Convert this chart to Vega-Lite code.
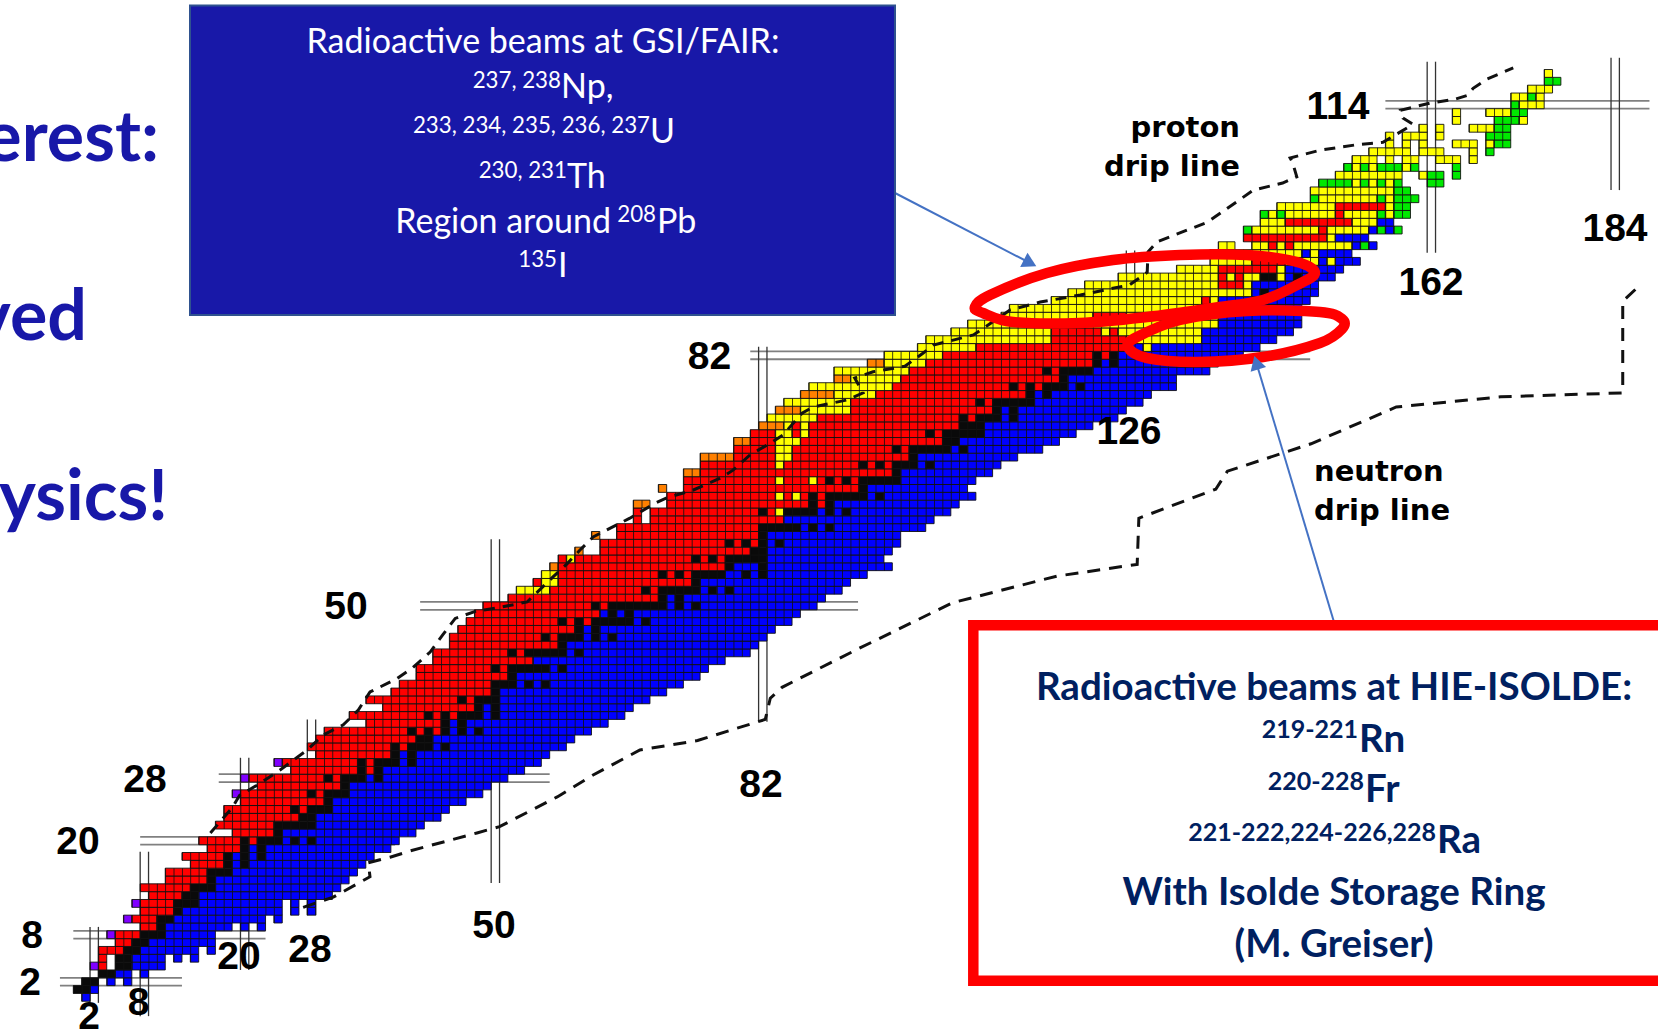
{"$schema":"https://vega.github.io/schema/vega-lite/v6.json","width":1658,"height":1032,"padding":0,"autosize":{"type":"none"},"background":"white","config":{"view":{"stroke":null}},
"datasets":{"cells":[
{"z":0,"a":1,"b":2,"c":"b"},{"z":1,"a":0,"b":2,"c":"k"},{"z":1,"a":2,"b":3,"c":"b"},{"z":2,"a":1,"b":3,"c":"k"},{"z":2,"a":4,"b":5,"c":"b"},{"z":2,"a":6,"b":7,"c":"b"},{"z":3,"a":3,"b":5,"c":"k"},{"z":3,"a":5,"b":7,"c":"b"},{"z":3,"a":8,"b":9,"c":"b"},
{"z":4,"a":2,"b":3,"c":"p"},{"z":4,"a":3,"b":4,"c":"r"},{"z":4,"a":5,"b":7,"c":"k"},{"z":4,"a":7,"b":11,"c":"b"},{"z":5,"a":3,"b":4,"c":"r"},{"z":5,"a":5,"b":7,"c":"k"},{"z":5,"a":7,"b":11,"c":"b"},{"z":5,"a":12,"b":13,"c":"b"},{"z":5,"a":14,"b":15,"c":"b"},
{"z":6,"a":3,"b":6,"c":"r"},{"z":6,"a":6,"b":8,"c":"k"},{"z":6,"a":8,"b":15,"c":"b"},{"z":6,"a":16,"b":17,"c":"b"},{"z":7,"a":5,"b":7,"c":"r"},{"z":7,"a":7,"b":9,"c":"k"},{"z":7,"a":9,"b":17,"c":"b"},{"z":8,"a":4,"b":5,"c":"p"},{"z":8,"a":5,"b":8,"c":"r"},{"z":8,"a":8,"b":11,"c":"k"},{"z":8,"a":11,"b":17,"c":"b"},
{"z":9,"a":8,"b":10,"c":"r"},{"z":9,"a":10,"b":11,"c":"k"},{"z":9,"a":11,"b":19,"c":"b"},{"z":9,"a":20,"b":21,"c":"b"},{"z":9,"a":22,"b":23,"c":"b"},{"z":10,"a":6,"b":7,"c":"p"},{"z":10,"a":7,"b":10,"c":"r"},{"z":10,"a":10,"b":12,"c":"k"},{"z":10,"a":12,"b":23,"c":"b"},{"z":10,"a":24,"b":25,"c":"b"},
{"z":11,"a":8,"b":12,"c":"r"},{"z":11,"a":12,"b":13,"c":"k"},{"z":11,"a":13,"b":25,"c":"b"},{"z":11,"a":26,"b":27,"c":"b"},{"z":11,"a":28,"b":29,"c":"b"},{"z":12,"a":7,"b":8,"c":"p"},{"z":12,"a":8,"b":12,"c":"r"},{"z":12,"a":12,"b":15,"c":"k"},{"z":12,"a":15,"b":25,"c":"b"},{"z":12,"a":26,"b":27,"c":"b"},{"z":12,"a":28,"b":29,"c":"b"},
{"z":13,"a":9,"b":13,"c":"r"},{"z":13,"a":13,"b":15,"c":"k"},{"z":13,"a":15,"b":31,"c":"b"},{"z":14,"a":8,"b":14,"c":"r"},{"z":14,"a":14,"b":17,"c":"k"},{"z":14,"a":17,"b":32,"c":"b"},{"z":15,"a":11,"b":16,"c":"r"},{"z":15,"a":16,"b":17,"c":"k"},{"z":15,"a":17,"b":33,"c":"b"},{"z":16,"a":11,"b":16,"c":"r"},{"z":16,"a":16,"b":19,"c":"k"},{"z":16,"a":19,"b":34,"c":"b"},
{"z":17,"a":14,"b":18,"c":"r"},{"z":17,"a":18,"b":19,"c":"k"},{"z":17,"a":19,"b":20,"c":"b"},{"z":17,"a":20,"b":21,"c":"k"},{"z":17,"a":21,"b":35,"c":"b"},{"z":18,"a":13,"b":18,"c":"r"},{"z":18,"a":18,"b":19,"c":"k"},{"z":18,"a":19,"b":20,"c":"b"},{"z":18,"a":20,"b":21,"c":"k"},{"z":18,"a":21,"b":22,"c":"b"},{"z":18,"a":22,"b":23,"c":"k"},{"z":18,"a":23,"b":36,"c":"b"},
{"z":19,"a":16,"b":20,"c":"r"},{"z":19,"a":20,"b":21,"c":"k"},{"z":19,"a":21,"b":22,"c":"b"},{"z":19,"a":22,"b":23,"c":"k"},{"z":19,"a":23,"b":38,"c":"b"},{"z":20,"a":15,"b":20,"c":"r"},{"z":20,"a":20,"b":21,"c":"k"},{"z":20,"a":21,"b":22,"c":"r"},{"z":20,"a":22,"b":25,"c":"k"},{"z":20,"a":25,"b":26,"c":"b"},{"z":20,"a":26,"b":27,"c":"k"},{"z":20,"a":27,"b":28,"c":"b"},{"z":20,"a":28,"b":29,"c":"k"},{"z":20,"a":29,"b":39,"c":"b"},
{"z":21,"a":19,"b":24,"c":"r"},{"z":21,"a":24,"b":25,"c":"k"},{"z":21,"a":25,"b":41,"c":"b"},{"z":22,"a":17,"b":24,"c":"r"},{"z":22,"a":24,"b":29,"c":"k"},{"z":22,"a":29,"b":42,"c":"b"},{"z":23,"a":18,"b":27,"c":"r"},{"z":23,"a":27,"b":29,"c":"k"},{"z":23,"a":29,"b":44,"c":"b"},{"z":24,"a":18,"b":26,"c":"r"},{"z":24,"a":26,"b":27,"c":"k"},{"z":24,"a":27,"b":28,"c":"r"},{"z":24,"a":28,"b":31,"c":"k"},{"z":24,"a":31,"b":45,"c":"b"},
{"z":25,"a":20,"b":30,"c":"r"},{"z":25,"a":30,"b":31,"c":"k"},{"z":25,"a":31,"b":47,"c":"b"},{"z":26,"a":19,"b":20,"c":"p"},{"z":26,"a":20,"b":28,"c":"r"},{"z":26,"a":28,"b":29,"c":"k"},{"z":26,"a":29,"b":30,"c":"r"},{"z":26,"a":30,"b":33,"c":"k"},{"z":26,"a":33,"b":49,"c":"b"},{"z":27,"a":22,"b":32,"c":"r"},{"z":27,"a":32,"b":33,"c":"k"},{"z":27,"a":33,"b":50,"c":"b"},
{"z":28,"a":20,"b":21,"c":"p"},{"z":28,"a":21,"b":30,"c":"r"},{"z":28,"a":30,"b":31,"c":"k"},{"z":28,"a":31,"b":32,"c":"r"},{"z":28,"a":32,"b":35,"c":"k"},{"z":28,"a":35,"b":36,"c":"b"},{"z":28,"a":36,"b":37,"c":"k"},{"z":28,"a":37,"b":52,"c":"b"},{"z":29,"a":26,"b":34,"c":"r"},{"z":29,"a":34,"b":35,"c":"k"},{"z":29,"a":35,"b":36,"c":"r"},{"z":29,"a":36,"b":37,"c":"k"},{"z":29,"a":37,"b":54,"c":"b"},
{"z":30,"a":24,"b":25,"c":"p"},{"z":30,"a":25,"b":34,"c":"r"},{"z":30,"a":34,"b":35,"c":"k"},{"z":30,"a":35,"b":36,"c":"r"},{"z":30,"a":36,"b":39,"c":"k"},{"z":30,"a":39,"b":40,"c":"b"},{"z":30,"a":40,"b":41,"c":"k"},{"z":30,"a":41,"b":56,"c":"b"},{"z":31,"a":29,"b":38,"c":"r"},{"z":31,"a":38,"b":39,"c":"k"},{"z":31,"a":39,"b":40,"c":"b"},{"z":31,"a":40,"b":41,"c":"k"},{"z":31,"a":41,"b":57,"c":"b"},
{"z":32,"a":28,"b":38,"c":"r"},{"z":32,"a":38,"b":39,"c":"k"},{"z":32,"a":39,"b":40,"c":"r"},{"z":32,"a":40,"b":43,"c":"k"},{"z":32,"a":43,"b":44,"c":"b"},{"z":32,"a":44,"b":45,"c":"k"},{"z":32,"a":45,"b":59,"c":"b"},{"z":33,"a":29,"b":41,"c":"r"},{"z":33,"a":41,"b":43,"c":"k"},{"z":33,"a":43,"b":60,"c":"b"},
{"z":34,"a":30,"b":40,"c":"r"},{"z":34,"a":40,"b":41,"c":"k"},{"z":34,"a":41,"b":42,"c":"r"},{"z":34,"a":42,"b":43,"c":"k"},{"z":34,"a":43,"b":44,"c":"r"},{"z":34,"a":44,"b":45,"c":"k"},{"z":34,"a":45,"b":46,"c":"b"},{"z":34,"a":46,"b":47,"c":"k"},{"z":34,"a":47,"b":48,"c":"b"},{"z":34,"a":48,"b":49,"c":"k"},{"z":34,"a":49,"b":62,"c":"b"},
{"z":35,"a":35,"b":44,"c":"r"},{"z":35,"a":44,"b":45,"c":"k"},{"z":35,"a":45,"b":46,"c":"b"},{"z":35,"a":46,"b":47,"c":"k"},{"z":35,"a":47,"b":64,"c":"b"},{"z":36,"a":33,"b":42,"c":"r"},{"z":36,"a":42,"b":43,"c":"k"},{"z":36,"a":43,"b":44,"c":"r"},{"z":36,"a":44,"b":45,"c":"k"},{"z":36,"a":45,"b":46,"c":"r"},{"z":36,"a":46,"b":49,"c":"k"},{"z":36,"a":49,"b":50,"c":"b"},{"z":36,"a":50,"b":51,"c":"k"},{"z":36,"a":51,"b":66,"c":"b"},
{"z":37,"a":37,"b":48,"c":"r"},{"z":37,"a":48,"b":49,"c":"k"},{"z":37,"a":49,"b":50,"c":"b"},{"z":37,"a":50,"b":51,"c":"k"},{"z":37,"a":51,"b":67,"c":"b"},{"z":38,"a":35,"b":46,"c":"r"},{"z":38,"a":46,"b":47,"c":"k"},{"z":38,"a":47,"b":48,"c":"r"},{"z":38,"a":48,"b":51,"c":"k"},{"z":38,"a":51,"b":69,"c":"b"},{"z":39,"a":38,"b":50,"c":"r"},{"z":39,"a":50,"b":51,"c":"k"},{"z":39,"a":51,"b":71,"c":"b"},
{"z":40,"a":39,"b":50,"c":"r"},{"z":40,"a":50,"b":53,"c":"k"},{"z":40,"a":53,"b":54,"c":"b"},{"z":40,"a":54,"b":55,"c":"k"},{"z":40,"a":55,"b":56,"c":"b"},{"z":40,"a":56,"b":57,"c":"k"},{"z":40,"a":57,"b":73,"c":"b"},{"z":41,"a":41,"b":52,"c":"r"},{"z":41,"a":52,"b":53,"c":"k"},{"z":41,"a":53,"b":75,"c":"b"},
{"z":42,"a":41,"b":50,"c":"r"},{"z":42,"a":50,"b":51,"c":"k"},{"z":42,"a":51,"b":52,"c":"r"},{"z":42,"a":52,"b":57,"c":"k"},{"z":42,"a":57,"b":58,"c":"b"},{"z":42,"a":58,"b":59,"c":"k"},{"z":42,"a":59,"b":76,"c":"b"},{"z":43,"a":43,"b":55,"c":"r"},{"z":43,"a":55,"b":78,"c":"b"},
{"z":44,"a":43,"b":52,"c":"r"},{"z":44,"a":52,"b":53,"c":"k"},{"z":44,"a":53,"b":54,"c":"r"},{"z":44,"a":54,"b":59,"c":"k"},{"z":44,"a":59,"b":60,"c":"b"},{"z":44,"a":60,"b":61,"c":"k"},{"z":44,"a":61,"b":81,"c":"b"},{"z":45,"a":45,"b":58,"c":"r"},{"z":45,"a":58,"b":59,"c":"k"},{"z":45,"a":59,"b":82,"c":"b"},
{"z":46,"a":45,"b":56,"c":"r"},{"z":46,"a":56,"b":57,"c":"k"},{"z":46,"a":57,"b":58,"c":"r"},{"z":46,"a":58,"b":61,"c":"k"},{"z":46,"a":61,"b":62,"c":"b"},{"z":46,"a":62,"b":63,"c":"k"},{"z":46,"a":63,"b":64,"c":"b"},{"z":46,"a":64,"b":65,"c":"k"},{"z":46,"a":65,"b":83,"c":"b"},{"z":47,"a":46,"b":60,"c":"r"},{"z":47,"a":60,"b":61,"c":"k"},{"z":47,"a":61,"b":62,"c":"b"},{"z":47,"a":62,"b":63,"c":"k"},{"z":47,"a":63,"b":84,"c":"b"},
{"z":48,"a":47,"b":58,"c":"r"},{"z":48,"a":58,"b":59,"c":"k"},{"z":48,"a":59,"b":60,"c":"r"},{"z":48,"a":60,"b":61,"c":"k"},{"z":48,"a":61,"b":62,"c":"r"},{"z":48,"a":62,"b":67,"c":"k"},{"z":48,"a":67,"b":68,"c":"b"},{"z":48,"a":68,"b":69,"c":"k"},{"z":48,"a":69,"b":86,"c":"b"},{"z":49,"a":48,"b":63,"c":"r"},{"z":49,"a":63,"b":64,"c":"b"},{"z":49,"a":64,"b":65,"c":"k"},{"z":49,"a":65,"b":66,"c":"b"},{"z":49,"a":66,"b":67,"c":"k"},{"z":49,"a":67,"b":87,"c":"b"},
{"z":50,"a":49,"b":62,"c":"r"},{"z":50,"a":62,"b":63,"c":"k"},{"z":50,"a":63,"b":64,"c":"r"},{"z":50,"a":64,"b":71,"c":"k"},{"z":50,"a":71,"b":72,"c":"b"},{"z":50,"a":72,"b":73,"c":"k"},{"z":50,"a":73,"b":74,"c":"b"},{"z":50,"a":74,"b":75,"c":"k"},{"z":50,"a":75,"b":89,"c":"b"},{"z":51,"a":52,"b":70,"c":"r"},{"z":51,"a":70,"b":71,"c":"k"},{"z":51,"a":71,"b":72,"c":"b"},{"z":51,"a":72,"b":73,"c":"k"},{"z":51,"a":73,"b":90,"c":"b"},
{"z":52,"a":53,"b":57,"c":"y"},{"z":52,"a":57,"b":68,"c":"r"},{"z":52,"a":68,"b":69,"c":"k"},{"z":52,"a":69,"b":70,"c":"r"},{"z":52,"a":70,"b":75,"c":"k"},{"z":52,"a":75,"b":76,"c":"b"},{"z":52,"a":76,"b":77,"c":"k"},{"z":52,"a":77,"b":78,"c":"b"},{"z":52,"a":78,"b":79,"c":"k"},{"z":52,"a":79,"b":92,"c":"b"},{"z":53,"a":55,"b":56,"c":"r"},{"z":53,"a":56,"b":58,"c":"y"},{"z":53,"a":58,"b":74,"c":"r"},{"z":53,"a":74,"b":75,"c":"k"},{"z":53,"a":75,"b":93,"c":"b"},
{"z":54,"a":56,"b":58,"c":"y"},{"z":54,"a":58,"b":70,"c":"r"},{"z":54,"a":70,"b":71,"c":"k"},{"z":54,"a":71,"b":72,"c":"r"},{"z":54,"a":72,"b":73,"c":"k"},{"z":54,"a":73,"b":74,"c":"r"},{"z":54,"a":74,"b":78,"c":"k"},{"z":54,"a":78,"b":80,"c":"b"},{"z":54,"a":80,"b":81,"c":"k"},{"z":54,"a":81,"b":82,"c":"b"},{"z":54,"a":82,"b":83,"c":"k"},{"z":54,"a":83,"b":95,"c":"b"},
{"z":55,"a":57,"b":58,"c":"o"},{"z":55,"a":58,"b":78,"c":"r"},{"z":55,"a":78,"b":79,"c":"k"},{"z":55,"a":79,"b":82,"c":"b"},{"z":55,"a":82,"b":83,"c":"k"},{"z":55,"a":83,"b":98,"c":"b"},{"z":56,"a":58,"b":59,"c":"r"},{"z":56,"a":59,"b":60,"c":"y"},{"z":56,"a":60,"b":74,"c":"r"},{"z":56,"a":74,"b":75,"c":"k"},{"z":56,"a":75,"b":76,"c":"r"},{"z":56,"a":76,"b":77,"c":"k"},{"z":56,"a":77,"b":78,"c":"r"},{"z":56,"a":78,"b":83,"c":"k"},{"z":56,"a":83,"b":97,"c":"b"},
{"z":57,"a":60,"b":61,"c":"o"},{"z":57,"a":63,"b":81,"c":"r"},{"z":57,"a":81,"b":83,"c":"k"},{"z":57,"a":83,"b":98,"c":"b"},{"z":58,"a":63,"b":78,"c":"r"},{"z":58,"a":78,"b":79,"c":"k"},{"z":58,"a":79,"b":80,"c":"r"},{"z":58,"a":80,"b":81,"c":"k"},{"z":58,"a":81,"b":82,"c":"r"},{"z":58,"a":82,"b":83,"c":"k"},{"z":58,"a":83,"b":84,"c":"b"},{"z":58,"a":84,"b":85,"c":"k"},{"z":58,"a":85,"b":99,"c":"b"},
{"z":59,"a":62,"b":63,"c":"o"},{"z":59,"a":65,"b":82,"c":"r"},{"z":59,"a":82,"b":83,"c":"k"},{"z":59,"a":83,"b":99,"c":"b"},{"z":60,"a":65,"b":82,"c":"r"},{"z":60,"a":82,"b":87,"c":"k"},{"z":60,"a":87,"b":88,"c":"b"},{"z":60,"a":88,"b":89,"c":"k"},{"z":60,"a":89,"b":90,"c":"b"},{"z":60,"a":90,"b":91,"c":"k"},{"z":60,"a":91,"b":102,"c":"b"},
{"z":61,"a":67,"b":68,"c":"r"},{"z":61,"a":69,"b":85,"c":"r"},{"z":61,"a":85,"b":103,"c":"b"},{"z":62,"a":67,"b":68,"c":"r"},{"z":62,"a":69,"b":82,"c":"r"},{"z":62,"a":82,"b":83,"c":"k"},{"z":62,"a":83,"b":84,"c":"r"},{"z":62,"a":84,"b":85,"c":"y"},{"z":62,"a":85,"b":89,"c":"k"},{"z":62,"a":89,"b":90,"c":"b"},{"z":62,"a":90,"b":91,"c":"k"},{"z":62,"a":91,"b":92,"c":"b"},{"z":62,"a":92,"b":93,"c":"k"},{"z":62,"a":93,"b":105,"c":"b"},
{"z":63,"a":67,"b":69,"c":"o"},{"z":63,"a":71,"b":88,"c":"r"},{"z":63,"a":88,"b":89,"c":"k"},{"z":63,"a":89,"b":90,"c":"r"},{"z":63,"a":90,"b":91,"c":"k"},{"z":63,"a":91,"b":106,"c":"b"},{"z":64,"a":71,"b":84,"c":"r"},{"z":64,"a":84,"b":85,"c":"y"},{"z":64,"a":85,"b":86,"c":"r"},{"z":64,"a":86,"b":87,"c":"y"},{"z":64,"a":87,"b":88,"c":"r"},{"z":64,"a":88,"b":89,"c":"k"},{"z":64,"a":89,"b":90,"c":"r"},{"z":64,"a":90,"b":95,"c":"k"},{"z":64,"a":95,"b":96,"c":"b"},{"z":64,"a":96,"b":97,"c":"k"},{"z":64,"a":97,"b":108,"c":"b"},
{"z":65,"a":70,"b":71,"c":"o"},{"z":65,"a":73,"b":94,"c":"r"},{"z":65,"a":94,"b":95,"c":"k"},{"z":65,"a":95,"b":107,"c":"b"},{"z":66,"a":73,"b":84,"c":"r"},{"z":66,"a":84,"b":85,"c":"y"},{"z":66,"a":85,"b":88,"c":"r"},{"z":66,"a":88,"b":89,"c":"y"},{"z":66,"a":89,"b":90,"c":"r"},{"z":66,"a":90,"b":91,"c":"k"},{"z":66,"a":91,"b":92,"c":"r"},{"z":66,"a":92,"b":93,"c":"k"},{"z":66,"a":93,"b":94,"c":"r"},{"z":66,"a":94,"b":99,"c":"k"},{"z":66,"a":99,"b":108,"c":"b"},
{"z":67,"a":73,"b":75,"c":"o"},{"z":67,"a":75,"b":98,"c":"r"},{"z":67,"a":98,"b":99,"c":"k"},{"z":67,"a":99,"b":110,"c":"b"},{"z":68,"a":75,"b":84,"c":"r"},{"z":68,"a":84,"b":85,"c":"y"},{"z":68,"a":85,"b":94,"c":"r"},{"z":68,"a":94,"b":95,"c":"k"},{"z":68,"a":95,"b":96,"c":"r"},{"z":68,"a":96,"b":97,"c":"k"},{"z":68,"a":97,"b":98,"c":"r"},{"z":68,"a":98,"b":101,"c":"k"},{"z":68,"a":101,"b":102,"c":"b"},{"z":68,"a":102,"b":103,"c":"k"},{"z":68,"a":103,"b":111,"c":"b"},
{"z":69,"a":75,"b":79,"c":"o"},{"z":69,"a":79,"b":84,"c":"r"},{"z":69,"a":84,"b":86,"c":"y"},{"z":69,"a":86,"b":100,"c":"r"},{"z":69,"a":100,"b":101,"c":"k"},{"z":69,"a":101,"b":113,"c":"b"},{"z":70,"a":79,"b":84,"c":"r"},{"z":70,"a":84,"b":86,"c":"y"},{"z":70,"a":86,"b":98,"c":"r"},{"z":70,"a":98,"b":99,"c":"k"},{"z":70,"a":99,"b":100,"c":"r"},{"z":70,"a":100,"b":105,"c":"k"},{"z":70,"a":105,"b":106,"c":"b"},{"z":70,"a":106,"b":107,"c":"k"},{"z":70,"a":107,"b":116,"c":"b"},
{"z":71,"a":79,"b":81,"c":"o"},{"z":71,"a":81,"b":84,"c":"r"},{"z":71,"a":84,"b":87,"c":"y"},{"z":71,"a":87,"b":104,"c":"r"},{"z":71,"a":104,"b":106,"c":"k"},{"z":71,"a":106,"b":118,"c":"b"},{"z":72,"a":81,"b":84,"c":"r"},{"z":72,"a":84,"b":86,"c":"y"},{"z":72,"a":86,"b":87,"c":"r"},{"z":72,"a":87,"b":88,"c":"y"},{"z":72,"a":88,"b":102,"c":"r"},{"z":72,"a":102,"b":103,"c":"k"},{"z":72,"a":103,"b":104,"c":"r"},{"z":72,"a":104,"b":109,"c":"k"},{"z":72,"a":109,"b":120,"c":"b"},
{"z":73,"a":82,"b":85,"c":"o"},{"z":73,"a":85,"b":86,"c":"y"},{"z":73,"a":86,"b":87,"c":"r"},{"z":73,"a":87,"b":88,"c":"y"},{"z":73,"a":88,"b":106,"c":"r"},{"z":73,"a":106,"b":109,"c":"k"},{"z":73,"a":109,"b":122,"c":"b"},{"z":74,"a":83,"b":89,"c":"y"},{"z":74,"a":89,"b":106,"c":"r"},{"z":74,"a":106,"b":107,"c":"k"},{"z":74,"a":107,"b":108,"c":"r"},{"z":74,"a":108,"b":111,"c":"k"},{"z":74,"a":111,"b":112,"c":"b"},{"z":74,"a":112,"b":113,"c":"k"},{"z":74,"a":113,"b":125,"c":"b"},
{"z":75,"a":84,"b":87,"c":"o"},{"z":75,"a":87,"b":93,"c":"y"},{"z":75,"a":93,"b":110,"c":"r"},{"z":75,"a":110,"b":111,"c":"k"},{"z":75,"a":111,"b":112,"c":"b"},{"z":75,"a":112,"b":113,"c":"k"},{"z":75,"a":113,"b":126,"c":"b"},{"z":76,"a":85,"b":93,"c":"y"},{"z":76,"a":93,"b":108,"c":"r"},{"z":76,"a":108,"b":109,"c":"k"},{"z":76,"a":109,"b":110,"c":"r"},{"z":76,"a":110,"b":115,"c":"k"},{"z":76,"a":115,"b":128,"c":"b"},
{"z":77,"a":87,"b":91,"c":"o"},{"z":77,"a":91,"b":96,"c":"y"},{"z":77,"a":96,"b":114,"c":"r"},{"z":77,"a":114,"b":115,"c":"k"},{"z":77,"a":115,"b":116,"c":"b"},{"z":77,"a":116,"b":117,"c":"k"},{"z":77,"a":117,"b":129,"c":"b"},{"z":78,"a":88,"b":98,"c":"y"},{"z":78,"a":98,"b":112,"c":"r"},{"z":78,"a":112,"b":113,"c":"k"},{"z":78,"a":113,"b":114,"c":"r"},{"z":78,"a":114,"b":115,"c":"k"},{"z":78,"a":115,"b":116,"c":"r"},{"z":78,"a":116,"b":119,"c":"k"},{"z":78,"a":119,"b":120,"c":"b"},{"z":78,"a":120,"b":121,"c":"k"},{"z":78,"a":121,"b":132,"c":"b"},
{"z":79,"a":91,"b":93,"c":"o"},{"z":79,"a":93,"b":99,"c":"y"},{"z":79,"a":99,"b":118,"c":"r"},{"z":79,"a":118,"b":119,"c":"k"},{"z":79,"a":119,"b":132,"c":"b"},{"z":80,"a":91,"b":100,"c":"y"},{"z":80,"a":100,"b":116,"c":"r"},{"z":80,"a":116,"b":117,"c":"k"},{"z":80,"a":117,"b":118,"c":"r"},{"z":80,"a":118,"b":122,"c":"k"},{"z":80,"a":122,"b":136,"c":"b"},
{"z":81,"a":95,"b":97,"c":"o"},{"z":81,"a":97,"b":102,"c":"y"},{"z":81,"a":102,"b":122,"c":"r"},{"z":81,"a":122,"b":123,"c":"k"},{"z":81,"a":123,"b":124,"c":"b"},{"z":81,"a":124,"b":125,"c":"k"},{"z":81,"a":125,"b":137,"c":"b"},{"z":82,"a":97,"b":104,"c":"y"},{"z":82,"a":104,"b":122,"c":"r"},{"z":82,"a":122,"b":123,"c":"k"},{"z":82,"a":123,"b":124,"c":"r"},{"z":82,"a":124,"b":125,"c":"k"},{"z":82,"a":125,"b":140,"c":"b"},
{"z":83,"a":101,"b":108,"c":"y"},{"z":83,"a":108,"b":126,"c":"r"},{"z":83,"a":126,"b":128,"c":"b"},{"z":83,"a":128,"b":129,"c":"y"},{"z":83,"a":129,"b":142,"c":"b"},{"z":84,"a":102,"b":117,"c":"y"},{"z":84,"a":117,"b":126,"c":"r"},{"z":84,"a":126,"b":135,"c":"y"},{"z":84,"a":135,"b":144,"c":"b"},{"z":85,"a":105,"b":117,"c":"y"},{"z":85,"a":117,"b":123,"c":"r"},{"z":85,"a":123,"b":124,"c":"y"},{"z":85,"a":124,"b":125,"c":"r"},{"z":85,"a":125,"b":135,"c":"y"},{"z":85,"a":135,"b":146,"c":"b"},
{"z":86,"a":107,"b":137,"c":"y"},{"z":86,"a":137,"b":147,"c":"b"},{"z":87,"a":111,"b":122,"c":"y"},{"z":87,"a":122,"b":126,"c":"r"},{"z":87,"a":126,"b":137,"c":"y"},{"z":87,"a":137,"b":147,"c":"b"},{"z":88,"a":112,"b":137,"c":"y"},{"z":88,"a":137,"b":147,"c":"b"},{"z":89,"a":117,"b":135,"c":"y"},{"z":89,"a":135,"b":136,"c":"r"},{"z":89,"a":136,"b":137,"c":"y"},{"z":89,"a":137,"b":148,"c":"b"},
{"z":90,"a":119,"b":141,"c":"y"},{"z":90,"a":141,"b":142,"c":"b"},{"z":90,"a":142,"b":143,"c":"k"},{"z":90,"a":143,"b":149,"c":"b"},{"z":91,"a":121,"b":137,"c":"y"},{"z":91,"a":137,"b":140,"c":"r"},{"z":91,"a":140,"b":141,"c":"y"},{"z":91,"a":141,"b":149,"c":"b"},{"z":92,"a":125,"b":137,"c":"y"},{"z":92,"a":137,"b":138,"c":"r"},{"z":92,"a":138,"b":139,"c":"y"},{"z":92,"a":139,"b":140,"c":"r"},{"z":92,"a":140,"b":142,"c":"y"},{"z":92,"a":142,"b":144,"c":"k"},{"z":92,"a":144,"b":145,"c":"y"},{"z":92,"a":145,"b":146,"c":"b"},{"z":92,"a":146,"b":147,"c":"k"},{"z":92,"a":147,"b":151,"c":"b"},
{"z":93,"a":132,"b":137,"c":"y"},{"z":93,"a":137,"b":144,"c":"r"},{"z":93,"a":144,"b":145,"c":"y"},{"z":93,"a":145,"b":152,"c":"b"},{"z":94,"a":136,"b":141,"c":"y"},{"z":94,"a":141,"b":145,"c":"r"},{"z":94,"a":145,"b":149,"c":"y"},{"z":94,"a":149,"b":150,"c":"b"},{"z":94,"a":150,"b":151,"c":"y"},{"z":94,"a":151,"b":154,"c":"b"},{"z":95,"a":136,"b":147,"c":"y"},{"z":95,"a":147,"b":148,"c":"b"},{"z":95,"a":148,"b":149,"c":"y"},{"z":95,"a":149,"b":153,"c":"b"},
{"z":96,"a":137,"b":139,"c":"y"},{"z":96,"a":141,"b":143,"c":"y"},{"z":96,"a":143,"b":144,"c":"r"},{"z":96,"a":144,"b":145,"c":"y"},{"z":96,"a":145,"b":146,"c":"r"},{"z":96,"a":146,"b":153,"c":"y"},{"z":96,"a":153,"b":154,"c":"b"},{"z":96,"a":154,"b":155,"c":"g"},{"z":96,"a":155,"b":156,"c":"b"},{"z":97,"a":140,"b":150,"c":"r"},{"z":97,"a":150,"b":151,"c":"y"},{"z":97,"a":151,"b":155,"c":"b"},
{"z":98,"a":140,"b":141,"c":"g"},{"z":98,"a":141,"b":149,"c":"y"},{"z":98,"a":149,"b":150,"c":"r"},{"z":98,"a":150,"b":155,"c":"y"},{"z":98,"a":155,"b":156,"c":"b"},{"z":98,"a":156,"b":157,"c":"g"},{"z":98,"a":157,"b":158,"c":"b"},{"z":98,"a":158,"b":159,"c":"g"},{"z":99,"a":142,"b":145,"c":"y"},{"z":99,"a":145,"b":153,"c":"r"},{"z":99,"a":153,"b":156,"c":"y"},{"z":99,"a":156,"b":158,"c":"b"},
{"z":100,"a":142,"b":143,"c":"g"},{"z":100,"a":143,"b":144,"c":"y"},{"z":100,"a":144,"b":145,"c":"g"},{"z":100,"a":145,"b":151,"c":"y"},{"z":100,"a":151,"b":152,"c":"r"},{"z":100,"a":152,"b":156,"c":"y"},{"z":100,"a":156,"b":157,"c":"g"},{"z":100,"a":157,"b":158,"c":"y"},{"z":100,"a":158,"b":160,"c":"g"},{"z":101,"a":144,"b":151,"c":"y"},{"z":101,"a":151,"b":157,"c":"r"},{"z":101,"a":157,"b":158,"c":"y"},{"z":101,"a":158,"b":160,"c":"g"},
{"z":102,"a":148,"b":149,"c":"g"},{"z":102,"a":149,"b":156,"c":"y"},{"z":102,"a":156,"b":157,"c":"g"},{"z":102,"a":157,"b":158,"c":"y"},{"z":102,"a":158,"b":161,"c":"g"},{"z":103,"a":148,"b":158,"c":"y"},{"z":103,"a":158,"b":160,"c":"g"},{"z":104,"a":149,"b":153,"c":"g"},{"z":104,"a":153,"b":154,"c":"y"},{"z":104,"a":154,"b":155,"c":"g"},{"z":104,"a":155,"b":156,"c":"y"},{"z":104,"a":156,"b":157,"c":"g"},{"z":104,"a":157,"b":158,"c":"y"},{"z":104,"a":158,"b":159,"c":"g"},{"z":104,"a":162,"b":164,"c":"g"},
{"z":105,"a":151,"b":159,"c":"y"},{"z":105,"a":161,"b":162,"c":"y"},{"z":105,"a":162,"b":164,"c":"g"},{"z":105,"a":165,"b":166,"c":"g"},{"z":106,"a":152,"b":153,"c":"g"},{"z":106,"a":153,"b":154,"c":"y"},{"z":106,"a":154,"b":155,"c":"g"},{"z":106,"a":155,"b":156,"c":"y"},{"z":106,"a":156,"b":159,"c":"g"},{"z":106,"a":159,"b":160,"c":"y"},{"z":106,"a":160,"b":161,"c":"g"},{"z":106,"a":165,"b":166,"c":"g"},
{"z":107,"a":153,"b":156,"c":"y"},{"z":107,"a":157,"b":158,"c":"y"},{"z":107,"a":159,"b":161,"c":"y"},{"z":107,"a":163,"b":166,"c":"y"},{"z":107,"a":167,"b":168,"c":"y"},{"z":108,"a":155,"b":160,"c":"y"},{"z":108,"a":161,"b":164,"c":"y"},{"z":108,"a":167,"b":168,"c":"y"},{"z":108,"a":169,"b":170,"c":"g"},{"z":109,"a":157,"b":158,"c":"y"},{"z":109,"a":159,"b":160,"c":"y"},{"z":109,"a":161,"b":162,"c":"y"},{"z":109,"a":165,"b":168,"c":"y"},{"z":109,"a":169,"b":170,"c":"y"},{"z":109,"a":170,"b":172,"c":"g"},
{"z":110,"a":157,"b":158,"c":"y"},{"z":110,"a":159,"b":162,"c":"y"},{"z":110,"a":163,"b":164,"c":"y"},{"z":110,"a":169,"b":172,"c":"g"},{"z":111,"a":161,"b":162,"c":"y"},{"z":111,"a":163,"b":164,"c":"y"},{"z":111,"a":167,"b":170,"c":"y"},{"z":111,"a":170,"b":172,"c":"g"},{"z":112,"a":165,"b":166,"c":"y"},{"z":112,"a":170,"b":173,"c":"g"},{"z":112,"a":173,"b":174,"c":"y"},{"z":113,"a":165,"b":166,"c":"y"},{"z":113,"a":169,"b":172,"c":"y"},{"z":113,"a":172,"b":174,"c":"g"},
{"z":114,"a":172,"b":173,"c":"g"},{"z":114,"a":173,"b":176,"c":"y"},{"z":115,"a":172,"b":174,"c":"y"},{"z":115,"a":174,"b":175,"c":"g"},{"z":115,"a":175,"b":176,"c":"y"},{"z":116,"a":174,"b":177,"c":"y"},{"z":117,"a":176,"b":178,"c":"g"},{"z":118,"a":176,"b":177,"c":"y"}
]},
"resolve":{"scale":{"x":"independent","y":"independent"}},
"layer":[
{"layer":[
{"data":{"values":[{"m":2,"z":1.5,"a":-1.6,"b":13},{"m":2,"z":2.5,"a":-1.6,"b":13},{"m":8,"z":7.5,"a":0,"b":23},{"m":8,"z":8.5,"a":0,"b":23},{"m":20,"z":19.5,"a":8,"b":38.5},{"m":20,"z":20.5,"a":8,"b":38.5},{"m":28,"z":27.5,"a":17.4,"b":57},{"m":28,"z":28.5,"a":17.4,"b":57},{"m":50,"z":49.5,"a":41.5,"b":93.9},{"m":50,"z":50.5,"a":41.5,"b":93.9},{"m":82,"z":81.5,"a":81,"b":148},{"m":82,"z":82.5,"a":81,"b":148},{"m":114,"z":113.5,"a":157,"b":188.6},{"m":114,"z":114.5,"a":157,"b":188.6}]},
"mark":{"type":"rule","color":"#808080","strokeWidth":1.8},
"encoding":{"x":{"field":"a","type":"quantitative","axis":null,"scale":{"domain":[-8.773,189.62],"nice":false,"zero":false}},"x2":{"field":"b"},"y":{"field":"z","type":"quantitative","axis":null,"scale":{"domain":[-4.424,127.38],"nice":false,"zero":false}}}},
{"data":{"values":[{"e":2,"p":9,"q":-0.7},{"e":3,"p":9,"q":-0.7},{"e":8,"p":18.6,"q":-2.4},{"e":9,"p":18.6,"q":-2.4},{"e":20,"p":30.6,"q":3.5},{"e":21,"p":30.6,"q":3.5},{"e":28,"p":35.5,"q":10.5},{"e":29,"p":35.5,"q":10.5},{"e":50,"p":58.5,"q":14.6},{"e":51,"p":58.5,"q":14.6},{"e":82,"p":83.1,"q":35.2},{"e":83,"p":83.1,"q":35.2},{"e":126,"p":95.4,"q":76.3},{"e":127,"p":95.4,"q":76.3},{"e":162,"p":119.5,"q":95.1},{"e":163,"p":119.5,"q":95.1},{"e":184,"p":120,"q":103.1},{"e":185,"p":120,"q":103.1}]},
"mark":{"type":"rule","color":"#333333","strokeWidth":1.3},
"encoding":{"x":{"field":"e","type":"quantitative","axis":null},"y":{"field":"p","type":"quantitative","axis":null},"y2":{"field":"q"}}},
{"data":{"name":"cells"},"mark":{"type":"rect","height":7.83,"stroke":"#111111","strokeWidth":0.9},
"encoding":{"x":{"field":"a","type":"quantitative","axis":null},"x2":{"field":"b"},"y":{"field":"z","type":"quantitative","axis":null},"color":{"field":"c","type":"nominal","legend":null,"scale":{"domain":["r","b","k","y","o","g","p"],"range":["#ff0000","#0000ff","#0a0a0a","#ffff00","#ff8000","#00e800","#8000ff"]}}}},
{"data":{"name":"cells"},"mark":{"type":"rule","color":"#111111","strokeWidth":7.83,"strokeDash":[0.8,7.557]},
"encoding":{"x":{"field":"a","type":"quantitative","axis":null},"x2":{"field":"b"},"y":{"field":"z","type":"quantitative","axis":null}}},
{"data":{"values":[{"i":1,"n":27.5,"z":11.5},{"i":2,"n":31.1,"z":12.8},{"i":3,"n":35.5,"z":15.4},{"i":4,"n":35.3,"z":17.2},{"i":5,"n":37.9,"z":17.9},{"i":6,"n":40.3,"z":18.7},{"i":7,"n":48.3,"z":21},{"i":8,"n":51,"z":21.8},{"i":9,"n":57.9,"z":25.6},{"i":10,"n":62.2,"z":28.4},{"i":11,"n":67.8,"z":31.6},{"i":12,"n":74.7,"z":32.8},{"i":13,"n":82.8,"z":35.5},{"i":14,"n":83.4,"z":38.2},{"i":15,"n":84.8,"z":39.6},{"i":16,"n":93.7,"z":44.4},{"i":17,"n":105.2,"z":50.4},{"i":18,"n":117.7,"z":53.8},{"i":19,"n":127.3,"z":55.3},{"i":20,"n":127.5,"z":61.2},{"i":21,"n":136.7,"z":64.9},{"i":22,"n":138.1,"z":67.2},{"i":23,"n":148.1,"z":70.7},{"i":24,"n":158.3,"z":75.4},{"i":25,"n":170.8,"z":76.7},{"i":26,"n":185.4,"z":77.2},{"i":27,"n":185.4,"z":88.9},{"i":28,"n":187.1,"z":90.6}]},
"mark":{"type":"line","color":"#111111","strokeWidth":3,"strokeDash":[13,9]},
"encoding":{"x":{"field":"n","type":"quantitative","axis":null},"y":{"field":"z","type":"quantitative","axis":null},"order":{"field":"i"}}},
{"data":{"values":[{"i":1,"n":16.4,"z":21},{"i":2,"n":19,"z":24.2},{"i":3,"n":19.9,"z":25.8},{"i":4,"n":22,"z":27.1},{"i":5,"n":24.7,"z":29},{"i":6,"n":28,"z":31.6},{"i":7,"n":29.9,"z":33.5},{"i":8,"n":32.3,"z":34.8},{"i":9,"n":34.1,"z":36.7},{"i":10,"n":35.5,"z":39},{"i":11,"n":38.7,"z":40.7},{"i":12,"n":40.6,"z":42.1},{"i":13,"n":42.7,"z":44.1},{"i":14,"n":44.2,"z":46.3},{"i":15,"n":45.7,"z":48.4},{"i":16,"n":48.1,"z":49.3},{"i":17,"n":51,"z":49.8},{"i":18,"n":54.3,"z":50.5},{"i":19,"n":57.4,"z":53.7},{"i":20,"n":59.1,"z":55.4},{"i":21,"n":60.6,"z":57.1},{"i":22,"n":62.2,"z":58.8},{"i":23,"n":64.2,"z":59.9},{"i":24,"n":66.6,"z":61.2},{"i":25,"n":69.6,"z":63.1},{"i":26,"n":71,"z":63.8},{"i":27,"n":74.2,"z":64.8},{"i":28,"n":77.4,"z":66.3},{"i":29,"n":78.9,"z":67.3},{"i":30,"n":81,"z":69.3},{"i":31,"n":83.6,"z":70.9},{"i":32,"n":84.9,"z":71.8},{"i":33,"n":87.2,"z":74.6},{"i":34,"n":88.5,"z":75.4},{"i":35,"n":92.6,"z":76.3},{"i":36,"n":94.5,"z":77.2},{"i":37,"n":93.5,"z":79.1},{"i":38,"n":95.7,"z":79.9},{"i":39,"n":99.5,"z":80.6},{"i":40,"n":101.7,"z":82.3},{"i":41,"n":102.9,"z":83.3},{"i":42,"n":107.7,"z":84.6},{"i":43,"n":109.1,"z":85.6},{"i":44,"n":112.1,"z":87.8},{"i":45,"n":115.7,"z":88.8},{"i":46,"n":120.5,"z":89.7},{"i":47,"n":126.4,"z":91},{"i":48,"n":128.5,"z":92.6},{"i":49,"n":128.6,"z":95.2},{"i":50,"n":129.7,"z":96.5},{"i":51,"n":135.7,"z":99},{"i":52,"n":139.2,"z":101.6},{"i":53,"n":141.2,"z":103.1},{"i":54,"n":144.7,"z":104},{"i":55,"n":146.4,"z":104.8},{"i":56,"n":145.9,"z":106.6},{"i":57,"n":145.6,"z":107.2},{"i":58,"n":149.2,"z":108.2},{"i":59,"n":153.6,"z":108.9},{"i":60,"n":156.7,"z":109.2},{"i":61,"n":160.3,"z":111.5},{"i":62,"n":159.1,"z":112.3},{"i":63,"n":158.8,"z":113.3},{"i":64,"n":162.3,"z":114.2},{"i":65,"n":165.3,"z":114.7},{"i":66,"n":166.8,"z":115.2},{"i":67,"n":167.5,"z":116.1},{"i":68,"n":169.2,"z":117.3},{"i":69,"n":172.3,"z":118.7}]},
"mark":{"type":"line","color":"#111111","strokeWidth":3,"strokeDash":[11,8]},
"encoding":{"x":{"field":"n","type":"quantitative","axis":null},"y":{"field":"z","type":"quantitative","axis":null},"order":{"field":"i"}}}
]},
{"layer":[
{"data":{"values":[{"s":1,"i":1,"x":975,"y":307},{"s":1,"i":2,"x":990,"y":295},{"s":1,"i":3,"x":1047,"y":273},{"s":1,"i":4,"x":1113,"y":260},{"s":1,"i":5,"x":1180,"y":255},{"s":1,"i":6,"x":1247,"y":255},{"s":1,"i":7,"x":1297,"y":262},{"s":1,"i":8,"x":1315,"y":273},{"s":1,"i":9,"x":1297,"y":285},{"s":1,"i":10,"x":1263,"y":300},{"s":1,"i":11,"x":1213,"y":308},{"s":1,"i":12,"x":1147,"y":317},{"s":1,"i":13,"x":1080,"y":323},{"s":1,"i":14,"x":1013,"y":322},{"s":1,"i":15,"x":983,"y":313},{"s":2,"i":1,"x":1128,"y":347},{"s":2,"i":2,"x":1137,"y":337},{"s":2,"i":3,"x":1180,"y":320},{"s":2,"i":4,"x":1247,"y":311},{"s":2,"i":5,"x":1320,"y":312},{"s":2,"i":6,"x":1342,"y":319},{"s":2,"i":7,"x":1342,"y":329},{"s":2,"i":8,"x":1320,"y":343},{"s":2,"i":9,"x":1263,"y":357},{"s":2,"i":10,"x":1197,"y":362},{"s":2,"i":11,"x":1147,"y":358}]},
"mark":{"type":"line","color":"#ff0000","strokeWidth":10.5,"interpolate":"cardinal-closed"},
"encoding":{"x":{"field":"x","type":"quantitative","axis":null,"scale":{"domain":[0,1658],"nice":false,"zero":false}},"y":{"field":"y","type":"quantitative","axis":null,"scale":{"domain":[1032,0],"nice":false,"zero":false}},"detail":{"field":"s"},"order":{"field":"i"}}},
{"data":{"values":[{"x":895,"y":193,"p":1030,"q":263},{"x":1334,"y":622,"p":1257,"q":365}]},"mark":{"type":"rule","color":"#4472c4","strokeWidth":2},
"encoding":{"x":{"field":"x","type":"quantitative","axis":null},"y":{"field":"y","type":"quantitative","axis":null},"x2":{"field":"p"},"y2":{"field":"q"}}},
{"data":{"values":[{"x":1028,"y":262}]},"mark":{"type":"point","shape":"triangle","filled":true,"opacity":1,"color":"#4472c4","size":260,"angle":117},
"encoding":{"x":{"field":"x","type":"quantitative","axis":null},"y":{"field":"y","type":"quantitative","axis":null}}},
{"data":{"values":[{"x":1257,"y":365}]},"mark":{"type":"point","shape":"triangle","filled":true,"opacity":1,"color":"#4472c4","size":260,"angle":343},
"encoding":{"x":{"field":"x","type":"quantitative","axis":null},"y":{"field":"y","type":"quantitative","axis":null}}},
{"data":{"values":[{"x":190,"y":5.5,"p":895,"q":315}]},"mark":{"type":"rect","fill":"#1818a8","stroke":"#2f528f","strokeWidth":2},
"encoding":{"x":{"field":"x","type":"quantitative","axis":null},"y":{"field":"y","type":"quantitative","axis":null},"x2":{"field":"p"},"y2":{"field":"q"}}},
{"data":{"values":[{"x":973.3,"y":625.3,"p":1700,"q":980.7}]},"mark":{"type":"rect","fill":"#ffffff","stroke":"#ff0000","strokeWidth":10.5},
"encoding":{"x":{"field":"x","type":"quantitative","axis":null},"y":{"field":"y","type":"quantitative","axis":null},"x2":{"field":"p"},"y2":{"field":"q"}}},
{"data":{"values":[{"x":543,"y":53,"t":"Radioactive beams at GSI/FAIR:"}]},"mark":{"type":"text","font":"Lato","fontSize":34,"color":"#ffffff","baseline":"alphabetic","align":"center"},
"encoding":{"x":{"field":"x","type":"quantitative","axis":null},"y":{"field":"y","type":"quantitative","axis":null},"text":{"field":"t"}}},
{"data":{"values":[{"x":561,"y":98,"t":"Np,"},{"x":650,"y":143,"t":"U"},{"x":567,"y":188,"t":"Th"},{"x":657,"y":233,"t":"Pb"},{"x":558,"y":277,"t":"I"}]},"mark":{"type":"text","font":"Lato","fontSize":34,"color":"#ffffff","baseline":"alphabetic","align":"left"},
"encoding":{"x":{"field":"x","type":"quantitative","axis":null},"y":{"field":"y","type":"quantitative","axis":null},"text":{"field":"t"}}},
{"data":{"values":[{"x":611,"y":233,"t":"Region around"}]},"mark":{"type":"text","font":"Lato","fontSize":34,"color":"#ffffff","baseline":"alphabetic","align":"right"},
"encoding":{"x":{"field":"x","type":"quantitative","axis":null},"y":{"field":"y","type":"quantitative","axis":null},"text":{"field":"t"}}},
{"data":{"values":[{"x":561,"y":88,"t":"237, 238"},{"x":650,"y":133,"t":"233, 234, 235, 236, 237"},{"x":567,"y":178,"t":"230, 231"},{"x":656,"y":222,"t":"208"},{"x":557,"y":267,"t":"135"}]},"mark":{"type":"text","font":"Lato","fontSize":22.3,"color":"#ffffff","baseline":"alphabetic","align":"right"},
"encoding":{"x":{"field":"x","type":"quantitative","axis":null},"y":{"field":"y","type":"quantitative","axis":null},"text":{"field":"t"}}},
{"data":{"values":[{"x":1334,"y":700,"t":"Radioactive beams at HIE-ISOLDE:"},{"x":1334,"y":905,"t":"With Isolde Storage Ring"},{"x":1334,"y":956.7,"t":"(M. Greiser)"}]},"mark":{"type":"text","font":"Lato","fontWeight":"bold","fontSize":38.5,"color":"#002060","baseline":"alphabetic","align":"center"},
"encoding":{"x":{"field":"x","type":"quantitative","axis":null},"y":{"field":"y","type":"quantitative","axis":null},"text":{"field":"t"}}},
{"data":{"values":[{"x":1359,"y":751.7,"t":"Rn"},{"x":1365,"y":801.7,"t":"Fr"},{"x":1437,"y":853,"t":"Ra"}]},"mark":{"type":"text","font":"Lato","fontWeight":"bold","fontSize":38.5,"color":"#002060","baseline":"alphabetic","align":"left"},
"encoding":{"x":{"field":"x","type":"quantitative","axis":null},"y":{"field":"y","type":"quantitative","axis":null},"text":{"field":"t"}}},
{"data":{"values":[{"x":1358,"y":738,"t":"219-221"},{"x":1364,"y":790,"t":"220-228"},{"x":1436,"y":840.7,"t":"221-222,224-226,228"}]},"mark":{"type":"text","font":"Lato","fontWeight":"bold","fontSize":25,"color":"#002060","baseline":"alphabetic","align":"right"},
"encoding":{"x":{"field":"x","type":"quantitative","axis":null},"y":{"field":"y","type":"quantitative","axis":null},"text":{"field":"t"}}},
{"data":{"values":[{"x":159,"y":160.7,"t":"erest:"},{"x":87,"y":340,"t":"ved"},{"x":168,"y":520,"t":"ysics!"}]},"mark":{"type":"text","font":"Lato","fontWeight":"bold","fontSize":70,"color":"#1818a8","baseline":"alphabetic","align":"right"},
"encoding":{"x":{"field":"x","type":"quantitative","axis":null},"y":{"field":"y","type":"quantitative","axis":null},"text":{"field":"t"}}},
{"data":{"values":[{"x":1338,"y":107,"t":"114"},{"x":1431,"y":283,"t":"162"},{"x":1615,"y":229,"t":"184"},{"x":709.5,"y":357,"t":"82"},{"x":346,"y":607,"t":"50"},{"x":145,"y":780,"t":"28"},{"x":78,"y":842,"t":"20"},{"x":32,"y":936,"t":"8"},{"x":30,"y":983,"t":"2"},{"x":1129,"y":432,"t":"126"},{"x":761,"y":784.5,"t":"82"},{"x":494,"y":926,"t":"50"},{"x":310,"y":949.5,"t":"28"},{"x":239,"y":957,"t":"20"},{"x":138.5,"y":1003,"t":"8"},{"x":89,"y":1017,"t":"2"}]},"mark":{"type":"text","font":"Liberation Sans","fontWeight":"bold","fontSize":39,"color":"#000000","baseline":"middle","align":"center"},
"encoding":{"x":{"field":"x","type":"quantitative","axis":null},"y":{"field":"y","type":"quantitative","axis":null},"text":{"field":"t"}}},
{"data":{"values":[{"x":1240,"y":128,"t":"proton"},{"x":1240,"y":167,"t":"drip line"}]},"mark":{"type":"text","font":"DejaVu Sans","fontWeight":"bold","fontSize":29,"color":"#000000","baseline":"middle","align":"right"},
"encoding":{"x":{"field":"x","type":"quantitative","axis":null},"y":{"field":"y","type":"quantitative","axis":null},"text":{"field":"t"}}},
{"data":{"values":[{"x":1314,"y":471.6,"t":"neutron"},{"x":1314,"y":510.7,"t":"drip line"}]},"mark":{"type":"text","font":"DejaVu Sans","fontWeight":"bold","fontSize":29,"color":"#000000","baseline":"middle","align":"left"},
"encoding":{"x":{"field":"x","type":"quantitative","axis":null},"y":{"field":"y","type":"quantitative","axis":null},"text":{"field":"t"}}}
]}
]}
